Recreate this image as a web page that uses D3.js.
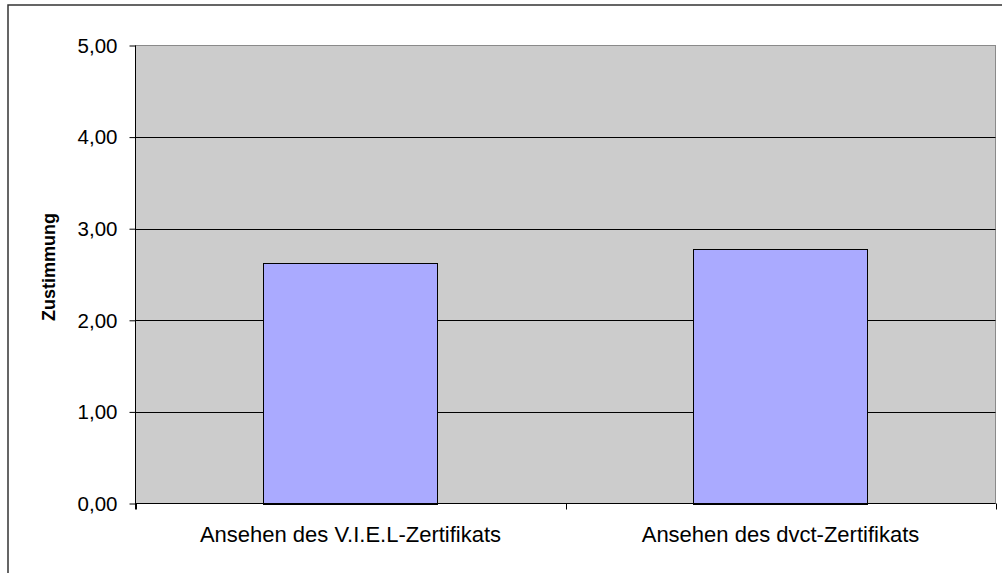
<!DOCTYPE html>
<html><head><meta charset="utf-8">
<script src="https://cdn.jsdelivr.net/npm/d3@7"></script>
<style>body{margin:0;background:#fff}svg{display:block}</style>
</head><body><svg id="c" width="1002" height="573"></svg>
<script>
const categories = ["Ansehen des V.I.E.L-Zertifikats", "Ansehen des dvct-Zertifikats"];
const values = [2.63, 2.78];
const yTicks = [0, 1, 2, 3, 4, 5];
const yTitle = "Zustimmung";

const W = 1002, H = 573;
const plot = {x0: 135.5, x1: 995.5, y0: 45.5, y1: 503.5};
const font = "'Liberation Sans', Arial, sans-serif";
const svg = d3.select("#c");

// outer chart border
svg.append("rect").attr("x", 8).attr("y", 5).attr("width", W).attr("height", H)
  .attr("fill", "#fff").attr("stroke", "#333").attr("stroke-width", 1.5);

const x = d3.scaleBand().domain(categories).range([plot.x0, plot.x1])
  .paddingInner(0.595).paddingOuter(0.2975);
const y = d3.scaleLinear().domain([0, 5]).range([plot.y1, plot.y0]);

// plot area
svg.append("rect").attr("x", plot.x0).attr("y", plot.y0)
  .attr("width", plot.x1 - plot.x0).attr("height", plot.y1 - plot.y0)
  .attr("fill", "#cccccc").attr("stroke", "#8a8a8a").attr("stroke-width", 1);

// gridlines
svg.append("g").selectAll("line").data(yTicks.filter(d => d > 0 && d < 5)).join("line")
  .attr("x1", plot.x0).attr("x2", plot.x1)
  .attr("y1", d => Math.round(y(d)) + 0.5).attr("y2", d => Math.round(y(d)) + 0.5)
  .attr("stroke", "#000").attr("stroke-width", 1);

// bars
svg.append("g").selectAll("rect").data(values).join("rect")
  .attr("x", (d, i) => Math.round(x(categories[i])) + 0.5)
  .attr("width", Math.round(x.bandwidth()))
  .attr("y", d => Math.round(y(d)) + 0.5)
  .attr("height", d => Math.round(y(0)) - Math.round(y(d)))
  .attr("fill", "#aaaaff").attr("stroke", "#000").attr("stroke-width", 1);

// y axis
const fmt = d => d3.format(".2f")(d).replace(".", ",");
const yAxis = svg.append("g").attr("transform", `translate(${plot.x0},0)`)
  .call(d3.axisLeft(y).tickValues(yTicks).tickFormat(fmt).tickSize(6).tickPadding(12));
yAxis.select(".domain").attr("d", `M0,${plot.y0}V${plot.y1 + 6}`).attr("stroke", "#000");
yAxis.selectAll(".tick line").attr("stroke", "#000");
yAxis.selectAll(".tick text").attr("font-family", font).attr("font-size", 20.5)
  .attr("fill", "#000").attr("dy", "0.33em");

// x axis line and boundary ticks
const bounds = d3.range(categories.length + 1).map(i => plot.x0 + i * (plot.x1 - plot.x0) / categories.length);
svg.append("line").attr("x1", plot.x0).attr("x2", plot.x1)
  .attr("y1", plot.y1).attr("y2", plot.y1).attr("stroke", "#000").attr("stroke-width", 1.2);
svg.append("g").selectAll("line").data(bounds).join("line")
  .attr("x1", d => Math.round(d) + 0.5).attr("x2", d => Math.round(d) + 0.5)
  .attr("y1", plot.y1).attr("y2", plot.y1 + 6)
  .attr("stroke", "#000");

// category labels
svg.append("g").selectAll("text").data(categories).join("text")
  .attr("x", d => x(d) + x.bandwidth() / 2)
  .attr("y", plot.y1 + 38.5)
  .attr("text-anchor", "middle")
  .attr("font-family", font).attr("font-size", 22).attr("fill", "#000")
  .text(d => d);

// y title
svg.append("text")
  .attr("transform", `translate(55,267) rotate(-90)`)
  .attr("text-anchor", "middle")
  .attr("font-family", font).attr("font-size", 18).attr("font-weight", "bold")
  .attr("fill", "#000").text(yTitle);
</script></body></html>
